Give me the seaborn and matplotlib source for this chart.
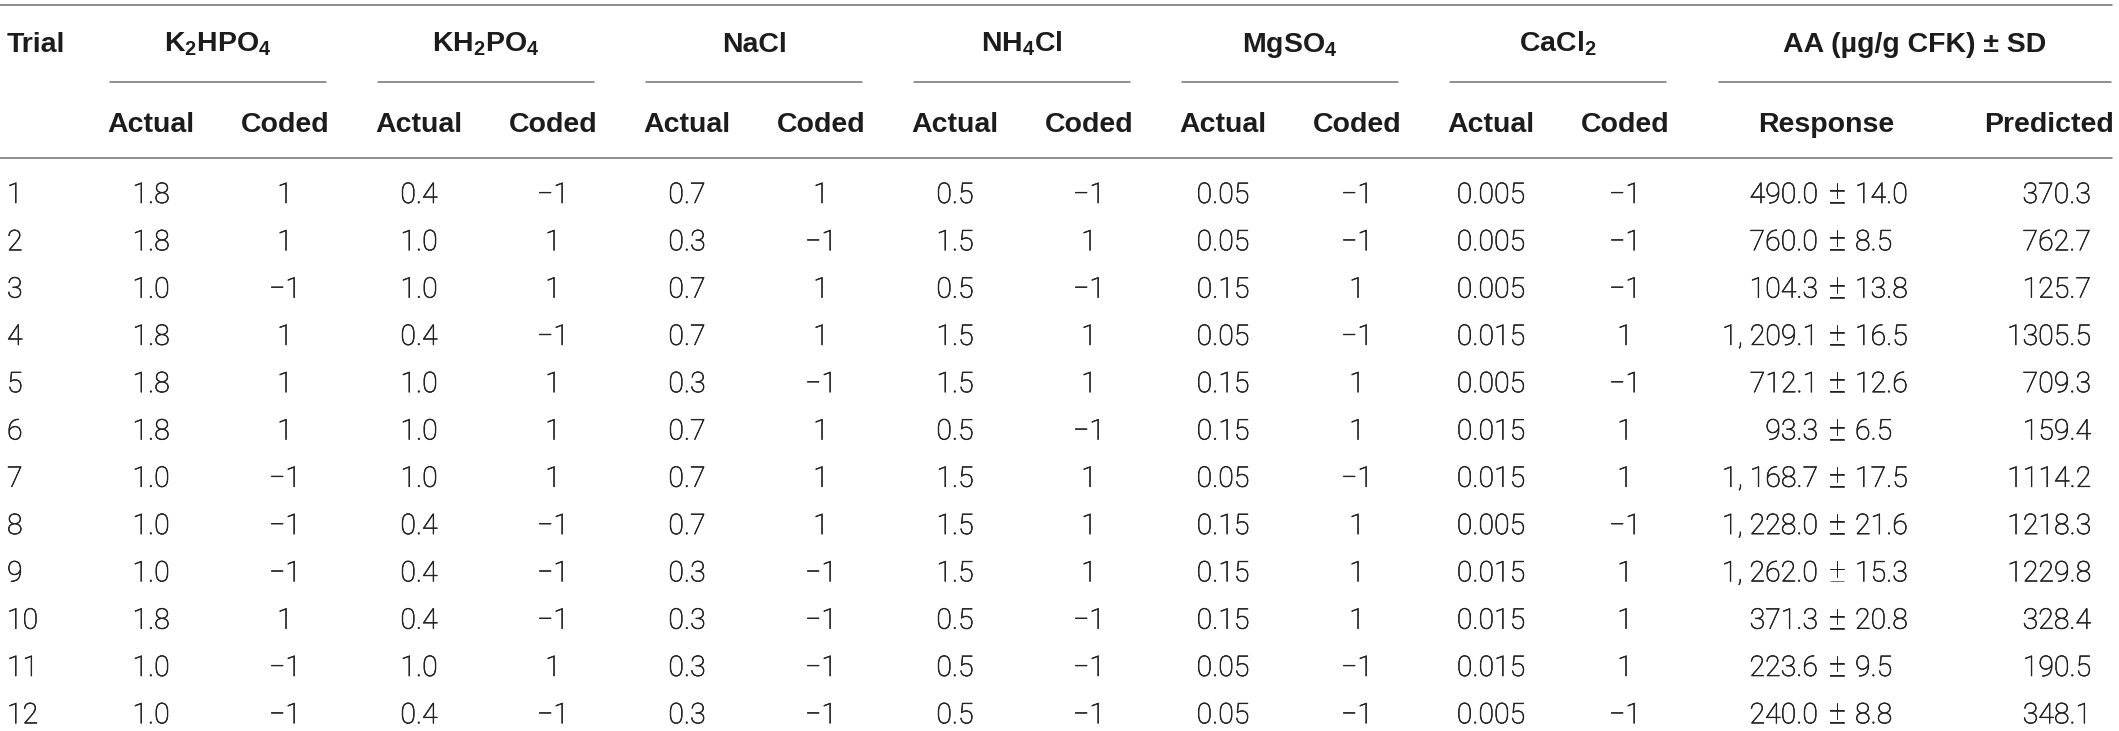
import matplotlib
matplotlib.use("Agg")
import matplotlib.pyplot as plt
import matplotlib.patheffects as pe
import seaborn as sns
import numpy as np
import pandas as pd

# table values
trial = list(range(1, 13))
k2hpo4_actual = [1.8, 1.8, 1.0, 1.8, 1.8, 1.8, 1.0, 1.0, 1.0, 1.8, 1.0, 1.0]
k2hpo4_coded = [1, 1, -1, 1, 1, 1, -1, -1, -1, 1, -1, -1]
kh2po4_actual = [0.4, 1.0, 1.0, 0.4, 1.0, 1.0, 1.0, 0.4, 0.4, 0.4, 1.0, 0.4]
kh2po4_coded = [-1, 1, 1, -1, 1, 1, 1, -1, -1, -1, 1, -1]
nacl_actual = [0.7, 0.3, 0.7, 0.7, 0.3, 0.7, 0.7, 0.7, 0.3, 0.3, 0.3, 0.3]
nacl_coded = [1, -1, 1, 1, -1, 1, 1, 1, -1, -1, -1, -1]
nh4cl_actual = [0.5, 1.5, 0.5, 1.5, 1.5, 0.5, 1.5, 1.5, 1.5, 0.5, 0.5, 0.5]
nh4cl_coded = [-1, 1, -1, 1, 1, -1, 1, 1, 1, -1, -1, -1]
mgso4_actual = [0.05, 0.05, 0.15, 0.05, 0.15, 0.15, 0.05, 0.15, 0.15, 0.15, 0.05, 0.05]
mgso4_coded = [-1, -1, 1, -1, 1, 1, -1, 1, 1, 1, -1, -1]
cacl2_actual = [0.005, 0.005, 0.005, 0.015, 0.005, 0.015, 0.015, 0.005, 0.015, 0.015, 0.015, 0.005]
cacl2_coded = [-1, -1, -1, 1, -1, 1, 1, -1, 1, 1, 1, -1]
response = [490.0, 760.0, 104.3, 1209.1, 712.1, 93.3, 1168.7, 1228.0, 1262.0, 371.3, 223.6, 240.0]
response_sd = [14.0, 8.5, 13.8, 16.5, 12.6, 6.5, 17.5, 21.6, 15.3, 20.8, 9.5, 8.8]
predicted = [370.3, 762.7, 125.7, 1305.5, 709.3, 159.4, 1114.2, 1218.3, 1229.8, 328.4, 190.5, 348.1]

group_names = ["K$_2$HPO$_4$", "KH$_2$PO$_4$", "NaCl", "NH$_4$Cl", "MgSO$_4$", "CaCl$_2$"]
group_actual = [k2hpo4_actual, kh2po4_actual, nacl_actual, nh4cl_actual, mgso4_actual, cacl2_actual]
group_coded = [k2hpo4_coded, kh2po4_coded, nacl_coded, nh4cl_coded, mgso4_coded, cacl2_coded]
group_decimals = [1, 1, 1, 1, 2, 3]

df = pd.DataFrame({"trial": trial, "response": response, "sd": response_sd, "predicted": predicted})

sns.set_theme(style="white")
plt.rcParams["font.family"] = ["Liberation Sans", "DejaVu Sans"]
plt.rcParams["mathtext.fontset"] = "custom"
plt.rcParams["mathtext.rm"] = "Liberation Sans:bold"
plt.rcParams["mathtext.bf"] = "Liberation Sans:bold"
plt.rcParams["mathtext.default"] = "rm"

W, H = 2119, 731
fig = plt.figure(figsize=(W / 100, H / 100), dpi=100)
ax = fig.add_axes([0, 0, 1, 1])
ax.set_xlim(0, W)
ax.set_ylim(H, 0)
ax.axis("off")

FS = 20.5
head_col = "#1c1c1c"
data_col = "#222222"
line_col = "#707070"
head_kw = dict(fontsize=FS, fontweight="bold", color=head_col, va="baseline")
# light face, thickened a little to match the reference stroke weight
data_kw = dict(fontsize=FS, color=data_col, va="baseline",
               family=["Roboto", "Liberation Sans", "DejaVu Sans"], fontweight="light",
               path_effects=[pe.withStroke(linewidth=0.45, foreground=data_col)])
pm_kw = dict(data_kw, fontsize=FS + 3)


def fmt_num(v, dec):
    return f"{v:.{dec}f}"


def fmt_coded(v):
    return "1" if v > 0 else "\u22121"


def fmt_resp(v):
    s = f"{v:,.1f}"
    return s.replace(",", ", ")


# layout
y_head1, y_grp_line, y_head2, y_rule = 52, 82, 132, 158
row0, row_step = 203, 47.3
actual_x0, pair_step, coded_off = 151, 268, 134
resp_pm_x, pred_right = 1837, 2091

# rules
ax.plot([0, 2112], [5, 5], color=line_col, lw=1.1)
ax.plot([0, 2112], [y_rule, y_rule], color=line_col, lw=1.1)

ax.text(7, y_head1, "Trial", ha="left", **head_kw)

for g, name in enumerate(group_names):
    xa = actual_x0 + g * pair_step
    xc = xa + coded_off
    xm = (xa + xc) / 2
    ax.text(xm, y_head1, name, ha="center", **head_kw)
    ax.plot([xm - 108, xm + 108], [y_grp_line, y_grp_line], color=line_col, lw=1.1)
    ax.text(xa, y_head2, "Actual", ha="center", **head_kw)
    ax.text(xc, y_head2, "Coded", ha="center", **head_kw)
    for i in range(len(trial)):
        y = row0 + i * row_step
        ax.text(xa, y, fmt_num(group_actual[g][i], group_decimals[g]), ha="center", **data_kw)
        ax.text(xc, y, fmt_coded(group_coded[g][i]), ha="center", **data_kw)

# response block
ax.text(1915, y_head1, "AA (\u00b5g/g CFK) \u00b1 SD", ha="center", **head_kw)
ax.plot([1719, 2111], [y_grp_line, y_grp_line], color=line_col, lw=1.1)
ax.text(1826, y_head2, "Response", ha="center", **head_kw)
ax.text(2114, y_head2, "Predicted", ha="right", **head_kw)

for i, row in enumerate(df.itertuples(index=False)):
    y = row0 + i * row_step
    ax.text(7, y, str(row.trial), ha="left", **data_kw)
    ax.text(resp_pm_x - 19, y, fmt_resp(row.response), ha="right", **data_kw)
    ax.text(resp_pm_x, y, "\u00b1", ha="center", **pm_kw)
    ax.text(resp_pm_x + 18, y, f"{row.sd:.1f}", ha="left", **data_kw)
    ax.text(pred_right, y, f"{row.predicted:.1f}", ha="right", **data_kw)

fig.savefig("out.png", dpi=100)
